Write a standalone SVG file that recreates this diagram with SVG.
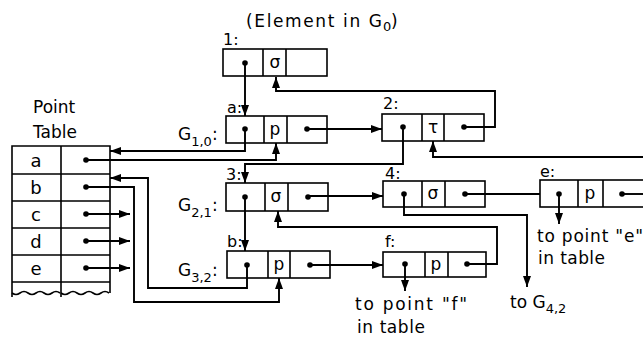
<svg xmlns="http://www.w3.org/2000/svg" width="643" height="345" viewBox="0 0 643 345">
<style>
  .box{fill:none;stroke:#000;stroke-width:1.6}
  .ln{fill:none;stroke:#000;stroke-width:1.9}
  .arr{marker-end:url(#ah)}
  .dot{fill:#000}
  text{font-family:"DejaVu Sans","Liberation Sans",sans-serif;fill:#000}
  .lbl{font-size:16px}
  .sym{font-size:17px;text-anchor:middle}
  .big{font-size:17px}
  .row{font-size:18px;text-anchor:middle}
  .sub{font-size:13px}
</style>
<defs>
  <marker id="ah" markerUnits="userSpaceOnUse" markerWidth="11" markerHeight="8" refX="11" refY="4" orient="auto">
    <path d="M0,0 L11,4 L0,8 z" fill="#000"/>
  </marker>
</defs>

<text x="246" y="27" class="big" textLength="136" lengthAdjust="spacing">(Element in G</text>
<text x="383" y="31" class="sub">0</text>
<text x="391" y="27" class="big">)</text>

<g id="point-table">
  <text x="33" y="113" class="big">Point</text>
  <text x="33" y="138" class="big">Table</text>
  <path class="box" d="M12,297 V146 H110 V293 M61,146 V297 M12,174 H110 M12,201 H110 M12,228 H110 M12,255 H110 M12,282 H110"/>
  <path class="box" d="M12,293 q4,3 8,0 t8,0 t8,0 t8,0 t8,0 t8,0 M61,293 q4,3 8,0 t8,0 t8,0 t8,0 t8,0 t8,0"/>
  <text x="36" y="167" class="row">a</text>
  <text x="36" y="194" class="row">b</text>
  <text x="36" y="221" class="row">c</text>
  <text x="36" y="248" class="row">d</text>
  <text x="36" y="275" class="row">e</text>
  <circle class="dot" cx="86" cy="160" r="2.8"/>
  <circle class="dot" cx="86" cy="187" r="2.8"/>
  <circle class="dot" cx="86" cy="214" r="2.8"/>
  <circle class="dot" cx="86" cy="241" r="2.8"/>
  <circle class="dot" cx="86" cy="268" r="2.8"/>
</g>

<g id="node-1">
  <text x="223" y="45" class="lbl">1:</text>
  <rect class="box" x="223" y="49" width="104" height="27"/>
  <path class="box" d="M263,49 V76 M286,49 V76"/>
  <text x="275" y="68" class="sym">σ</text>
  <circle class="dot" cx="245" cy="63" r="2.8"/>
</g>

<g id="node-a">
  <text x="227" y="113" class="lbl">a:</text>
  <text x="178" y="140" class="big">G<tspan class="sub" dy="6">1,0</tspan><tspan dy="-6">:</tspan></text>
  <rect class="box" x="226" y="116" width="101" height="27"/>
  <path class="box" d="M264,116 V143 M287,116 V143"/>
  <text x="275" y="135" class="sym">p</text>
  <circle class="dot" cx="245" cy="129" r="2.8"/>
  <circle class="dot" cx="307" cy="129" r="2.8"/>
</g>

<g id="node-2">
  <text x="383" y="109" class="lbl">2:</text>
  <rect class="box" x="382" y="114" width="102" height="27"/>
  <path class="box" d="M422,114 V141 M444,114 V141"/>
  <text x="433" y="133" class="sym">τ</text>
  <circle class="dot" cx="403" cy="127" r="2.8"/>
  <circle class="dot" cx="464" cy="127" r="2.8"/>
</g>

<g id="node-3">
  <text x="226" y="180" class="lbl">3:</text>
  <text x="178" y="211" class="big">G<tspan class="sub" dy="6">2,1</tspan><tspan dy="-6">:</tspan></text>
  <rect class="box" x="226" y="183" width="102" height="28"/>
  <path class="box" d="M265,183 V211 M288,183 V211"/>
  <text x="276" y="202" class="sym">σ</text>
  <circle class="dot" cx="245" cy="197" r="2.8"/>
  <circle class="dot" cx="308" cy="197" r="2.8"/>
</g>

<g id="node-4">
  <text x="385" y="179" class="lbl">4:</text>
  <rect class="box" x="383" y="181" width="102" height="26"/>
  <path class="box" d="M422,181 V207 M445,181 V207"/>
  <text x="433" y="199" class="sym">σ</text>
  <circle class="dot" cx="404" cy="194" r="2.8"/>
  <circle class="dot" cx="465" cy="194" r="2.8"/>
</g>

<g id="node-e">
  <text x="540" y="177" class="lbl">e:</text>
  <rect class="box" x="540" y="180" width="110" height="27"/>
  <path class="box" d="M578,180 V207 M603,180 V207"/>
  <text x="590" y="199" class="sym">p</text>
  <circle class="dot" cx="559" cy="194" r="2.8"/>
  <circle class="dot" cx="622" cy="194" r="2.8"/>
  <text x="537" y="242" class="big" textLength="106" lengthAdjust="spacing">to point "e"</text>
  <text x="538" y="264" class="big" textLength="67" lengthAdjust="spacing">in table</text>
</g>

<g id="node-b">
  <text x="227" y="247" class="lbl">b:</text>
  <text x="178" y="276" class="big">G<tspan class="sub" dy="6">3,2</tspan><tspan dy="-6">:</tspan></text>
  <rect class="box" x="227" y="251" width="103" height="27"/>
  <path class="box" d="M268,251 V278 M290,251 V278"/>
  <text x="279" y="270" class="sym">p</text>
  <circle class="dot" cx="247" cy="265" r="2.8"/>
  <circle class="dot" cx="310" cy="265" r="2.8"/>
</g>

<g id="node-f">
  <text x="385" y="247" class="lbl">f:</text>
  <rect class="box" x="383" y="252" width="103" height="25"/>
  <path class="box" d="M425,252 V277 M448,252 V277"/>
  <text x="436" y="270" class="sym">p</text>
  <circle class="dot" cx="405" cy="264" r="2.8"/>
  <circle class="dot" cx="467" cy="264" r="2.8"/>
  <text x="355" y="310" class="big" textLength="112" lengthAdjust="spacing">to point "f"</text>
  <text x="357" y="333" class="big" textLength="68" lengthAdjust="spacing">in table</text>
</g>

<g id="to-g42">
  <text x="510" y="308" class="big">to G<tspan class="sub" dy="5">4,2</tspan></text>
</g>

<g id="connectors">
  <path class="ln arr" d="M245,63 V116"/>
  <path class="ln arr" d="M464,127 H495 V91 H276 V77"/>
  <path class="ln arr" d="M307,129 H382"/>
  <path class="ln arr" d="M245,129 V151 H110"/>
  <path class="ln arr" d="M86,160 H276 V143"/>
  <path class="ln arr" d="M403,127 V164 H245 V183"/>
  <path class="ln arr" d="M643,157 H433 V141"/>
  <path class="ln arr" d="M308,196 H383"/>
  <path class="ln" d="M465,194 H540"/>
  <path class="ln" d="M622,194 H643"/>
  <path class="ln arr" d="M559,194 V224"/>
  <path class="ln arr" d="M404,194 V215 H527 V287"/>
  <path class="ln arr" d="M245,197 V251"/>
  <path class="ln arr" d="M467,264 H497 V227 H278 V211"/>
  <path class="ln arr" d="M310,265 H383"/>
  <path class="ln arr" d="M405,264 V291"/>
  <path class="ln arr" d="M247,265 V288 H148 V178 H110"/>
  <path class="ln arr" d="M86,187 H134 V302 H279 V278"/>
  <path class="ln arr" d="M86,214 H130"/>
  <path class="ln arr" d="M86,241 H130"/>
  <path class="ln arr" d="M86,268 H130"/>
</g>
</svg>
